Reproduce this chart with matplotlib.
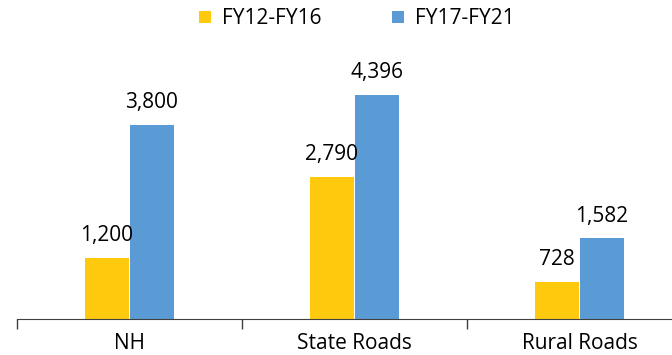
import matplotlib.pyplot as plt
import numpy as np

categories = ["NH", "State Roads", "Rural Roads"]
fy12_16 = [1200, 2790, 728]
fy17_21 = [3800, 4396, 1582]
series_names = ["FY12-FY16", "FY17-FY21"]

plt.rcParams["font.family"] = ["Open Sans", "DejaVu Sans"]

fig = plt.figure(figsize=(6.72, 3.55), dpi=100)
# axes runs a bit past the right edge, like the source image
ax = fig.add_axes([17 / 672, 36 / 355, 675 / 672, 255 / 355])

x = np.arange(len(categories))
w = 0.195
b1 = ax.bar(x - 0.1, fy12_16, w, color="#FFC90E", label=series_names[0])
b2 = ax.bar(x + 0.1, fy17_21, w, color="#5B9BD5", label=series_names[1])

for bars, vals in ((b1, fy12_16), (b2, fy17_21)):
    for r, v in zip(bars, vals):
        ax.text(r.get_x() + r.get_width() / 2, v + 230, f"{v:,}",
                ha="center", va="bottom", fontsize=15)

ax.set_xlim(-0.5, 2.5)
ax.set_ylim(0, 5000)
ax.set_yticks([])
ax.set_xticks(x)
ax.set_xticklabels(categories, fontsize=15)
ax.tick_params(axis="x", length=0, pad=10)
ax.set_xticks([-0.5, 0.5, 1.5, 2.5], minor=True)
ax.tick_params(axis="x", which="minor", length=7, width=1, color="#404040")
for s in ["top", "right", "left"]:
    ax.spines[s].set_visible(False)
ax.spines["bottom"].set_color("#404040")

fig.legend(loc="center", bbox_to_anchor=(357 / 672, 1 - 19 / 355), ncol=2,
           frameon=False, fontsize=15, handlelength=0.55, handleheight=0.55,
           columnspacing=3.4, handletextpad=0.55)

fig.savefig("out.png", dpi=100)
